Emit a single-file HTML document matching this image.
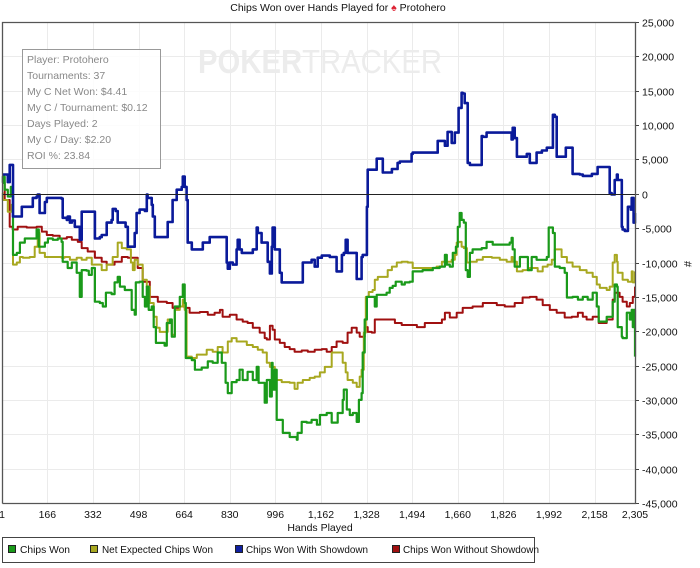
<!DOCTYPE html>
<html><head><meta charset="utf-8">
<style>
html,body{margin:0;padding:0;background:#fff;width:700px;height:568px;overflow:hidden;font-family:"Liberation Sans",sans-serif;}
svg{display:block}
</style></head>
<body>
<svg id="chart" width="700" height="568" xmlns="http://www.w3.org/2000/svg">
  <text x="338" y="11" font-size="10.5" text-anchor="middle" fill="#111">Chips Won over Hands Played for <tspan fill="#d23">♠</tspan> Protohero</text>
  <g id="grid"></g>
  <g>
    <text x="198" y="73" font-size="33" font-weight="bold" fill="#ececec" textLength="244" lengthAdjust="spacingAndGlyphs">POKER<tspan font-weight="normal">TRACKER</tspan></text>
  </g>
  <g id="series"></g>
  <g id="axes"></g>
  <g>
    <rect x="22.5" y="49.5" width="138" height="119" fill="#fff" fill-opacity="0.85" stroke="#999"/>
    <g font-size="10.5" fill="#888">
      <text x="27" y="63">Player: Protohero</text>
      <text x="27" y="79">Tournaments: 37</text>
      <text x="27" y="95">My C Net Won: $4.41</text>
      <text x="27" y="111">My C / Tournament: $0.12</text>
      <text x="27" y="127">Days Played: 2</text>
      <text x="27" y="143">My C / Day: $2.20</text>
      <text x="27" y="159">ROI %: 23.84</text>
    </g>
  </g>
  <text x="320" y="531" font-size="10.5" text-anchor="middle" fill="#111">Hands Played</text>
  <text x="684" y="264" font-size="11" text-anchor="middle" fill="#111" transform="rotate(90 684 264)">#</text>
  <g font-size="10.5">
    <rect x="2.5" y="537.5" width="532" height="25" fill="#fff" stroke="#444"/>
    <g><rect x="8.5" y="545.5" width="7" height="7" fill="#1a9a1a" stroke="#222"/><text x="20" y="553" fill="#111" textLength="50" lengthAdjust="spacingAndGlyphs">Chips Won</text></g>
    <g><rect x="90.5" y="545.5" width="7" height="7" fill="#a8a820" stroke="#222"/><text x="102" y="553" fill="#111" textLength="111" lengthAdjust="spacingAndGlyphs">Net Expected Chips Won</text></g>
    <g><rect x="235.5" y="545.5" width="7" height="7" fill="#1020a0" stroke="#222"/><text x="246" y="553" fill="#111" textLength="122" lengthAdjust="spacingAndGlyphs">Chips Won With Showdown</text></g>
    <g><rect x="392.5" y="545.5" width="7" height="7" fill="#a01010" stroke="#222"/><text x="403" y="553" fill="#111" textLength="136" lengthAdjust="spacingAndGlyphs">Chips Won Without Showdown</text></g>
  </g>
</svg>
<script>
const xTicks=[1,166,332,498,664,830,996,1162,1328,1494,1660,1826,1992,2158,2305];
const yTicks=[25000,20000,15000,10000,5000,0,-5000,-10000,-15000,-20000,-25000,-30000,-35000,-40000,-45000];

const greenHands=[1,4,11,22,33,40,41,55,66,84,113,127,135,157,168,186,204,218,222,237,240,255,273,284,291,309,317,328,339,357,368,379,400,411,422,430,448,473,484,488,502,513,521,528,535,546,553,561,593,601,612,619,630,648,659,666,670,692,703,728,750,768,786,801,815,823,837,855,866,877,895,914,928,935,950,957,965,976,983,986,994,1001,1023,1048,1059,1074,1077,1092,1110,1128,1147,1158,1183,1201,1223,1241,1245,1256,1267,1278,1292,1300,1310,1314,1321,1329,1347,1358,1365,1401,1412,1423,1434,1456,1467,1485,1496,1532,1569,1594,1613,1620,1631,1642,1653,1660,1667,1674,1682,1689,1696,1704,1714,1747,1765,1787,1824,1849,1856,1860,1867,1886,1911,1915,1929,1947,1984,1991,2006,2013,2031,2049,2057,2078,2097,2115,2133,2151,2166,2173,2202,2213,2224,2231,2239,2242,2257,2260,2275,2286,2293,2297,2300,2305];
const greenChips=[1600,2500,600,-400,1000,-400,-8900,-8600,-7100,-6500,-6500,-5200,-7700,-7100,-6500,-6700,-6500,-7000,-9900,-9900,-10800,-10000,-11500,-15000,-11100,-11200,-11800,-10800,-15700,-15900,-16400,-14400,-14600,-12900,-12100,-13500,-14000,-16900,-17600,-12900,-12800,-15000,-16400,-13500,-16900,-16400,-19400,-21700,-22100,-18800,-18300,-20800,-16400,-15000,-13200,-15900,-23900,-24200,-25600,-25300,-24400,-24600,-23100,-24600,-27500,-29000,-27400,-27100,-25600,-27100,-25900,-27100,-25200,-27500,-27500,-30400,-27100,-29500,-24600,-28500,-25600,-32900,-34800,-35400,-35400,-35800,-34800,-33200,-33300,-32900,-33600,-32200,-31900,-33300,-31900,-30000,-28500,-31400,-32200,-31900,-33200,-30000,-29000,-23100,-18300,-15000,-15000,-16400,-14700,-14400,-13700,-13400,-12800,-13200,-12900,-12800,-11300,-11100,-10800,-10600,-8900,-10300,-10600,-8600,-7700,-4800,-2800,-3800,-4200,-11100,-12100,-8600,-8100,-7900,-7000,-7400,-7400,-7100,-6400,-8100,-10600,-9200,-9200,-11100,-9200,-9600,-9200,-4900,-5700,-10600,-10800,-11500,-15100,-15000,-15400,-15000,-15400,-14400,-16400,-18600,-17900,-17900,-15700,-13200,-13500,-19400,-20800,-21000,-17300,-18300,-16900,-19400,-16900,-23700];

const yellowHands=[1,4,22,36,41,55,66,77,102,120,131,138,157,182,218,229,248,273,291,309,328,346,364,382,404,422,437,455,470,477,484,495,513,528,539,553,564,575,601,604,619,630,648,659,666,673,692,710,728,746,768,786,804,823,837,855,866,892,914,932,950,965,976,994,1019,1048,1066,1077,1096,1121,1139,1158,1176,1201,1223,1241,1252,1259,1278,1292,1303,1310,1318,1325,1336,1350,1358,1369,1387,1405,1420,1438,1456,1478,1496,1558,1583,1602,1638,1649,1656,1663,1674,1682,1693,1704,1729,1751,1784,1813,1838,1856,1860,1875,1896,1922,1951,1969,1987,2002,2013,2024,2038,2057,2078,2104,2129,2151,2166,2177,2202,2213,2224,2231,2239,2242,2260,2279,2293,2297,2305];
const yellowChips=[100,-900,-2600,-1600,-10300,-10000,-9200,-9300,-9200,-7700,-5700,-8600,-9200,-9200,-9300,-9200,-9600,-9300,-9600,-9300,-10300,-10300,-11100,-10300,-9200,-7100,-7900,-8100,-10000,-11100,-9600,-10300,-12500,-13500,-15900,-17900,-19500,-20100,-20100,-18300,-20500,-16900,-16400,-15400,-16900,-23700,-23900,-23400,-23400,-22700,-23000,-22300,-23100,-21500,-21000,-21500,-21500,-22000,-22300,-22700,-23100,-24600,-25200,-27100,-27400,-27500,-28400,-27500,-27100,-26800,-26600,-26000,-25200,-23100,-23100,-24600,-26000,-27100,-27500,-28100,-26600,-25600,-20200,-15000,-14300,-14000,-12500,-12100,-12100,-11100,-10600,-10000,-9900,-10000,-10800,-10800,-10600,-9900,-9600,-8900,-7100,-7000,-7700,-7900,-10000,-9900,-9600,-9200,-9300,-9600,-9900,-9200,-9900,-11300,-11100,-10800,-11300,-10600,-10300,-9600,-8100,-8100,-9200,-10000,-10600,-11100,-11500,-12100,-13200,-13700,-14000,-13500,-10000,-8900,-9900,-11500,-12500,-12800,-11300,-12900,-11300];

const blueHands=[1,18,22,29,40,41,66,73,109,113,127,131,138,149,157,164,182,218,222,237,240,248,255,266,284,291,331,339,357,364,375,382,400,404,415,422,437,451,459,477,484,491,502,521,528,531,546,550,557,593,604,615,622,637,655,659,666,673,677,692,728,732,757,794,819,823,830,841,855,859,866,874,914,928,932,946,957,968,976,983,986,994,1012,1019,1085,1096,1114,1128,1139,1150,1165,1194,1212,1219,1238,1245,1252,1259,1292,1296,1310,1314,1329,1332,1365,1369,1387,1420,1423,1441,1449,1492,1496,1587,1594,1613,1620,1623,1638,1649,1656,1663,1674,1678,1685,1693,1696,1704,1747,1751,1765,1838,1842,1856,1860,1867,1875,1911,1915,1922,1947,1966,1984,1991,2006,2013,2020,2053,2057,2078,2104,2115,2148,2151,2169,2177,2213,2220,2231,2239,2242,2257,2260,2268,2279,2290,2293,2300,2305];
const blueChips=[2800,2800,1700,4200,4200,-3300,-3300,-1900,-1900,-600,-400,-100,-2800,-2800,-1200,-600,-600,-700,-3500,-3800,-3300,-4200,-3900,-4800,-6700,-2600,-2600,-6500,-6300,-6000,-6000,-4200,-3800,-2200,-2500,-4200,-4200,-4800,-7700,-7700,-5700,-2800,-2300,-2500,-100,-600,-1600,-3300,-6300,-6300,-4100,-4100,-900,600,1000,2500,1000,-900,-7100,-8100,-8100,-7100,-6300,-6300,-10000,-10900,-10000,-10300,-8100,-6700,-8100,-8600,-8100,-4900,-5700,-7100,-7100,-9900,-11600,-7700,-4900,-8100,-11500,-12900,-12900,-10000,-10000,-9600,-10600,-9300,-9000,-9200,-9200,-11300,-8900,-8600,-6700,-8600,-12400,-12400,-9200,-8900,-1900,3500,5100,5100,3100,3600,3600,4500,4700,5800,6000,7700,7700,7000,7000,9000,7400,8900,8900,12500,14700,14600,13200,13200,4500,4200,8400,8300,8900,8900,8900,7900,9600,8100,5400,5800,5800,4500,6000,6300,6700,6700,11500,11200,5400,6700,6700,2900,2800,2600,2900,2900,3900,3900,100,-100,2000,2800,2000,-4800,-5200,-5400,-1900,-2300,-600,-4200,-2800,-9200];

const redHands=[1,11,29,40,58,91,127,146,164,186,211,237,255,277,291,313,339,364,382,411,437,459,477,495,513,539,568,601,622,648,666,684,721,750,775,794,804,830,855,877,895,914,939,957,965,976,986,994,1012,1030,1048,1066,1092,1114,1139,1165,1183,1201,1219,1241,1259,1274,1292,1303,1321,1332,1347,1358,1412,1431,1456,1511,1540,1602,1613,1631,1656,1678,1714,1751,1776,1802,1831,1867,1896,1922,1947,1969,1995,2020,2049,2075,2097,2115,2129,2151,2173,2202,2224,2231,2249,2260,2275,2286,2297,2305];
const redChips=[1600,-900,-4800,-5200,-4800,-4900,-4800,-5500,-6000,-6100,-6500,-6300,-6700,-7000,-7900,-8400,-9300,-9900,-10300,-9900,-9200,-9300,-9300,-10800,-12800,-15000,-15700,-15900,-16600,-16400,-16600,-17300,-17200,-17600,-17300,-16900,-17900,-17600,-18300,-18600,-18800,-19500,-20200,-21000,-21200,-19200,-19800,-21200,-21700,-22300,-22600,-23000,-22800,-23000,-22700,-22600,-23000,-22300,-21500,-21700,-20200,-19500,-20200,-20800,-19400,-20100,-20200,-18300,-18300,-18800,-19100,-19400,-18800,-18300,-17300,-18000,-17300,-16600,-16400,-15900,-15900,-16200,-16400,-15900,-15100,-15000,-15400,-16200,-16900,-17300,-18000,-17900,-17300,-17900,-18300,-17900,-18800,-18300,-15400,-14400,-15000,-15700,-16400,-15900,-15000,-13500];

const NS='http://www.w3.org/2000/svg';
const X0=2,X1=635,Y0=22,Y1=503,HMIN=1,HMAX=2305,VMAX=25000,VMIN=-45000;
function xs(h){return X0+(h-HMIN)/(HMAX-HMIN)*(X1-X0);}
function ys(v){return Y0+(VMAX-v)/(VMAX-VMIN)*(Y1-Y0);}
function mk(tag,attrs,parent){const e=document.createElementNS(NS,tag);for(const k in attrs)e.setAttribute(k,attrs[k]);parent.appendChild(e);return e;}
function fmt(n){return n.toLocaleString('en-US');}

const grid=document.getElementById('grid'),axes=document.getElementById('axes'),series=document.getElementById('series');
xTicks.forEach(t=>{
  const x=Math.round(xs(t))+0.5;
  const gl=mk('line',{x1:x,x2:x,y1:Y0,y2:Y1,stroke:'#ebebeb','stroke-width':1},grid);
  
  
  const lb=mk('text',{x:xs(t),y:518,'font-size':10.5,'text-anchor':'middle',fill:'#111'},axes);
  lb.textContent=fmt(t);
  
  
});
yTicks.forEach(t=>{
  const y=Math.round(ys(t))+0.5;
  const gl=mk('line',{x1:X0,x2:X1,y1:y,y2:y,stroke:t===0?'#222':'#ebebeb','stroke-width':1},t===0?axes:grid);
  
  
  const tk=mk('line',{x1:X1,x2:X1+4,y1:y,y2:y,stroke:'#444'},axes);
  
  
  const lb=mk('text',{x:X1+7,y:y+4,'font-size':10.5,fill:'#111'},axes);
  lb.textContent=fmt(t);
  
  
});
const frame=mk('path',{d:`M${X0+0.5},${Y1+0.5} V${Y0+0.5} H${X1+0.5} V${Y1+0.5} H${X0+0.5}`,fill:'none',stroke:'#555','stroke-width':1.3},axes);



function drawLine(hands,chips,color,w,name){
  let d='';
  hands.forEach((h,i)=>{
    const x=xs(h).toFixed(1),y=ys(chips[i]).toFixed(1);
    d+= i? ` H${x} V${y}` : `M${x},${y}`;
  });
  const p=mk('path',{d:d,fill:'none',stroke:color,'stroke-width':w,'stroke-linejoin':'round'},series);
  
  
}
drawLine(redHands,redChips,'#a01010',2,'line-chips-won-without-showdown');
drawLine(yellowHands,yellowChips,'#a8a820',2,'line-net-expected-chips-won');
drawLine(greenHands,greenChips,'#1a9a1a',2.2,'line-chips-won');
drawLine(blueHands,blueChips,'#0a1a9a',2.6,'line-chips-won-with-showdown');
</script>
</body></html>
